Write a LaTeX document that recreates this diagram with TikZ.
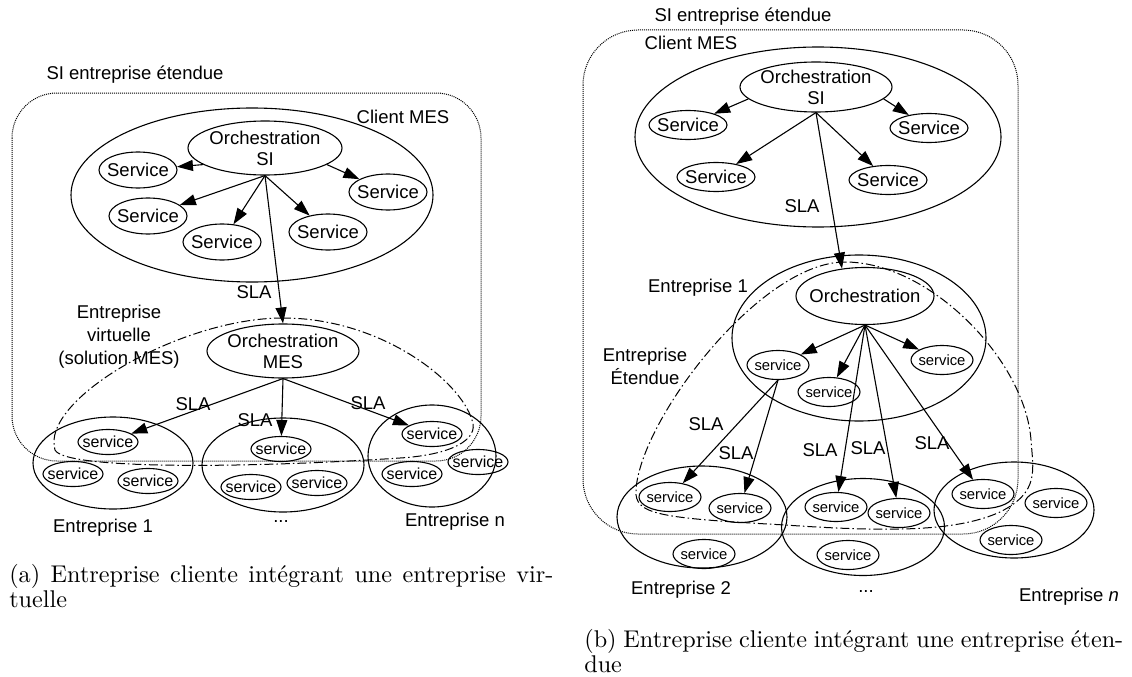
\documentclass[tikz,border=0pt]{standalone}
\usepackage{fontspec}
\newfontfamily\arialfont{Liberation Sans}
\usetikzlibrary{shapes.geometric,arrows.meta}

\newcommand\lblfont{\arialfont\fontsize{18.5}{21}\selectfont}
\newcommand\widefont{\arialfont\fontsize{18.5}{23}\selectfont}
\newcommand\svcfont{\arialfont\fontsize{16}{18}\selectfont}
\newcommand\tinyfont{\arialfont\fontsize{14.8}{17}\selectfont}
\newcommand\capfont{\fontsize{10}{10.3}\selectfont}

\begin{document}
\begin{tikzpicture}[x=1pt, y=-1pt, line width=1.1pt,
  every node/.style={font=\lblfont, inner sep=1pt},
  ell/.style={ellipse, draw, inner sep=0pt},
  svc/.style={ell, minimum width=78pt, minimum height=36pt, label={center:Service}},
  smsvc/.style={ell, minimum width=60pt, minimum height=25pt, label={[font=\svcfont]center:service}},
  tinysvc/.style={ell, minimum width=62pt, minimum height=29pt, label={[font=\tinyfont]center:service}},
  arr/.style={-{Triangle[length=16pt, width=11pt]}},
  dotbox/.style={line width=1pt, dash pattern=on 1pt off 1pt},
  dashdot/.style={line width=1pt, dash pattern=on 9pt off 3pt on 1.5pt off 3pt},
  caption/.style={font=\capfont, scale=2.42, anchor=north west, align=left, inner sep=0pt}]
\useasboundingbox (0,0) rectangle (1132,677);

% (a) entreprise virtuelle
\node (titleA) at (135,75) {SI entreprise étendue};
\draw[dotbox, rounded corners=45pt] (12,93) rectangle (481,461);
\node[ell, minimum width=362pt, minimum height=174pt] (clientA) at (252,195) {};
\node (clientAtxt) at (403,117) {Client MES};
\node[ell, minimum width=154pt, minimum height=54pt, label={[align=center]center:Orchestration\\SI}] (orchSIA) at (265,148) {};
\node[svc] (sA1) at (138,170) {};
\node[svc] (sA2) at (148,216) {};
\node[svc] (sA3) at (222,242) {};
\node[svc] (sA4) at (328,232) {};
\node[svc] (sA5) at (388,192) {};
\draw[arr] (orchSIA.195) -- (sA1);
\draw[arr] (orchSIA.south) -- (sA2);
\draw[arr] (orchSIA.south) -- (sA3);
\draw[arr] (orchSIA.south) -- (sA4);
\draw[arr] (orchSIA.345) -- (sA5);

\node[ell, minimum width=152pt, minimum height=54pt, label={[align=center]center:Orchestration\\MES}] (orchMES) at (283,351) {};
\draw[arr] (orchSIA.south) -- (orchMES.north);
\node (slaA0) at (254,292) {SLA};
\node[align=center, font=\widefont] (virtA) at (119,337) {Entreprise\\virtuelle\\(solution MES)};
\draw[dashdot] (283,318) .. controls (180,318) and (40,400) .. (55,450)
  .. controls (65,470) and (250,468) .. (400,458)
  .. controls (450,455) and (480,440) .. (472,420)
  .. controls (460,380) and (380,318) .. (283,318);

\node[ell, minimum width=160pt, minimum height=92pt] (entA1) at (113,463) {};
\node[ell, minimum width=162pt, minimum height=94pt] (entA2) at (283,465) {};
\node[ell, minimum width=128pt, minimum height=102pt] (entA3) at (432,456) {};
\node[smsvc] (vA1) at (108,442) {};
\node[smsvc] (vA2) at (73,474) {};
\node[smsvc] (vA3) at (148,481) {};
\node[smsvc] (vB1) at (281,449) {};
\node[smsvc] (vB2) at (251,487) {};
\node[smsvc] (vB3) at (317,483) {};
\node[smsvc] (vC1) at (432,434) {};
\node[smsvc] (vC2) at (412,474) {};
\node[smsvc] (vC3) at (478,462) {};
\draw[arr] (orchMES.south) -- (vA1);
\draw[arr] (orchMES.south) -- (vB1);
\draw[arr] (orchMES.south) -- (vC1);
\node (slaA1) at (193,404) {SLA};
\node (slaA2) at (255,420) {SLA};
\node (slaA3) at (368,403) {SLA};
\node (entA1txt) at (103,528) {Entreprise 1};
\node (dotsA) at (281,522) {...};
\node (entA3txt) at (455,522) {Entreprise n};

\node[caption] (capA) at (8,563) {\makebox[224.8pt][s]{(a) Entreprise cliente intégrant une entreprise vir-}\\tuelle};

% (b) entreprise etendue
\node (titleB) at (743,17) {SI entreprise étendue};
\draw[dotbox, rounded corners=55pt] (583,30) rectangle (1018,534);
\node[ell, minimum width=366pt, minimum height=180pt] (clientB) at (818,137) {};
\node (clientBtxt) at (691,43) {Client MES};
\node[ell, minimum width=152pt, minimum height=50pt, label={[align=center]center:Orchestration\\SI}] (orchSIB) at (816,87) {};
\node[svc, minimum height=29pt] (sB1) at (688,125) {};
\node[svc, minimum height=29pt] (sB2) at (716,177) {};
\node[svc, minimum height=29pt] (sB3) at (888,180) {};
\node[svc, minimum height=29pt] (sB4) at (929,128) {};
\draw[arr] (orchSIB.190) -- (sB1);
\draw[arr] (orchSIB.south) -- (sB2);
\draw[arr] (orchSIB.south) -- (sB3);
\draw[arr] (orchSIB.350) -- (sB4);

\node[ell, minimum width=254pt, minimum height=166pt] (entB1) at (859,338) {};
\node[ell, minimum width=138pt, minimum height=57pt, label=center:Orchestration] (orchB) at (865,296) {};
\draw[arr] (orchSIB.south) -- (orchB.130);
\node (slaB0) at (802,206) {SLA};
\node (entB1txt) at (698,288) {Entreprise 1};
\node[align=center, font=\widefont] (extB) at (645,366) {Entreprise\\Étendue};
\node[tinysvc] (wA) at (778,365) {};
\node[tinysvc] (wB) at (829,392) {};
\node[tinysvc] (wC) at (942,360) {};
\draw[arr] (orchB.south) -- (wA);
\draw[arr] (orchB.south) -- (wB);
\draw[arr] (orchB.south) -- (wC);

\draw[dashdot] (845,262) .. controls (760,262) and (640,420) .. (636,490)
  .. controls (634,515) and (660,518) .. (785,525)
  .. controls (900,533) and (960,530) .. (1000,512)
  .. controls (1040,492) and (1033,470) .. (1031,440)
  .. controls (1025,360) and (930,262) .. (845,262);

\node[ell, minimum width=170pt, minimum height=102pt] (entB2) at (702,517) {};
\node[ell, minimum width=163pt, minimum height=97pt] (entB3) at (863,527) {};
\node[ell, minimum width=160pt, minimum height=96pt] (entB4) at (1014,510) {};
\node[tinysvc] (xA1) at (670,497) {};
\node[tinysvc] (xA2) at (740,508) {};
\node[tinysvc] (xA3) at (704,554) {};
\node[tinysvc] (xB1) at (836,507) {};
\node[tinysvc] (xB2) at (899,513) {};
\node[tinysvc] (xB3) at (848,555) {};
\node[tinysvc] (xC1) at (983,494) {};
\node[tinysvc] (xC2) at (1056,503) {};
\node[tinysvc] (xC3) at (1011,540) {};
\draw[arr] (wA.south) -- (xA1);
\draw[arr] (wA.south) -- (xA2);
\draw[arr] (orchB.south) -- (xB1);
\draw[arr] (orchB.south) -- (xB2);
\draw[arr] (orchB.south) -- (xC1);
\node (slaB1) at (706,424) {SLA};
\node (slaB2) at (736,453) {SLA};
\node (slaB3) at (820,450) {SLA};
\node (slaB4) at (868,448) {SLA};
\node (slaB5) at (932,443) {SLA};
\node (entB2txt) at (681,590) {Entreprise 2};
\node (dotsB) at (866,592) {...};
\node (entB4txt) at (1069,597) {Entreprise \textit{n}};

\node[caption] (capB) at (583,628) {\makebox[222.7pt][s]{(b) Entreprise cliente intégrant une entreprise éten-}\\due};
\end{tikzpicture}
\end{document}
